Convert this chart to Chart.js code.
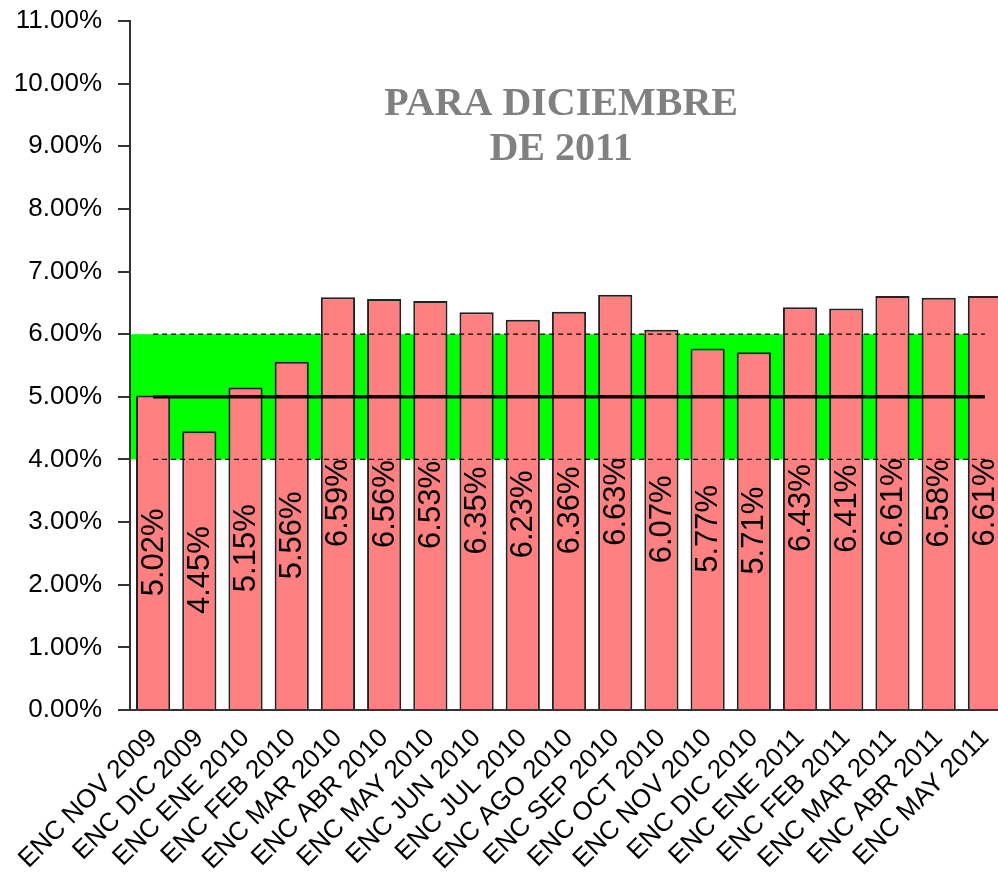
<!DOCTYPE html>
<html lang="es">
<head>
    <meta charset="UTF-8">
    <title>Expectativa de inflación para diciembre de 2011</title>
    <script src="https://cdn.jsdelivr.net/npm/chart.js"></script>
    <style>
        html, body { margin: 0; padding: 0; background: #fff; overflow: hidden; }
        #wrap { width: 998px; height: 874px; overflow: hidden; }
    </style>
</head>
<body>
    <div id="wrap">
        <canvas id="encChart" width="1010" height="874"></canvas>
    </div>
    <script>
        // survey months
        var categories = ['ENC NOV 2009', 'ENC DIC 2009', 'ENC ENE 2010', 'ENC FEB 2010',
            'ENC MAR 2010', 'ENC ABR 2010', 'ENC MAY 2010', 'ENC JUN 2010', 'ENC JUL 2010',
            'ENC AGO 2010', 'ENC SEP 2010', 'ENC OCT 2010', 'ENC NOV 2010', 'ENC DIC 2010',
            'ENC ENE 2011', 'ENC FEB 2011', 'ENC MAR 2011', 'ENC ABR 2011', 'ENC MAY 2011'];
        // expected inflation (%)
        var expectativa = [5.02, 4.45, 5.15, 5.56, 6.59, 6.56, 6.53, 6.35, 6.23,
            6.36, 6.63, 6.07, 5.77, 5.71, 6.43, 6.41, 6.61, 6.58, 6.61];
        // target range and centre
        var rangoInf = 4;
        var rangoSup = 6;
        var meta = 5;
        var yTicks = [0, 1, 2, 3, 4, 5, 6, 7, 8, 9, 10, 11];
        var titulo = ['PARA DICIEMBRE', 'DE 2011'];

        function flat(v) {
            return categories.map(function() { return v; });
        }

        // green band behind the bars
        var bandPlugin = {
            id: 'band',
            beforeDatasetsDraw: function(chart) {
                var c = chart.ctx, x = chart.scales.x, y = chart.scales.y;
                var left = chart.chartArea.left + 1;
                var right = x.getPixelForValue(categories.length - 1) + 3;
                c.save();
                c.fillStyle = '#00ff00';
                c.fillRect(left, y.getPixelForValue(rangoSup), right - left,
                    y.getPixelForValue(rangoInf) - y.getPixelForValue(rangoSup));
                c.restore();
            }
        };

        // vertical value labels + title text
        var labelPlugin = {
            id: 'labels',
            afterDatasetsDraw: function(chart) {
                var c = chart.ctx;
                var meta0 = chart.getDatasetMeta(0);
                c.save();
                c.fillStyle = '#000';
                c.font = '31px "Liberation Sans", Arial, sans-serif';
                c.textAlign = 'center';
                c.textBaseline = 'middle';
                meta0.data.forEach(function(bar, i) {
                    c.save();
                    c.translate(bar.x, (bar.y + bar.base) / 2);
                    c.rotate(-Math.PI / 2);
                    c.fillText(expectativa[i].toFixed(2) + '%', 0, 1);
                    c.restore();
                });
                var x = chart.scales.x, y = chart.scales.y;
                c.fillStyle = '#808080';
                c.textBaseline = 'alphabetic';
                c.font = 'bold 40px "Liberation Serif", "Times New Roman", serif';
                var cx = x.getPixelForValue(8.83);
                c.fillText(titulo[0], cx, y.getPixelForValue(9.5));
                c.fillText(titulo[1], cx, y.getPixelForValue(8.78));
                c.restore();
            }
        };

        var ctx = document.getElementById('encChart').getContext('2d');
        var encChart = new Chart(ctx, {
            data: {
                labels: categories,
                datasets: [{
                    type: 'bar',
                    label: 'Expectativa',
                    data: expectativa,
                    backgroundColor: '#ff8080',
                    borderColor: '#222222',
                    borderWidth: 2,
                    barPercentage: 0.74,
                    categoryPercentage: 1,
                    order: 3
                }, {
                    type: 'line',
                    label: 'Meta',
                    data: flat(meta),
                    borderColor: '#000',
                    borderWidth: 3.5,
                    pointRadius: 0,
                    fill: false,
                    order: 1
                }, {
                    type: 'line',
                    label: 'Sup',
                    data: flat(rangoSup),
                    borderColor: '#000',
                    borderWidth: 1.3,
                    borderDash: [5, 4],
                    pointRadius: 0,
                    fill: false,
                    order: 2
                }, {
                    type: 'line',
                    label: 'Inf',
                    data: flat(rangoInf),
                    borderColor: '#000',
                    borderWidth: 1.3,
                    borderDash: [5, 4],
                    pointRadius: 0,
                    fill: false,
                    order: 2
                }]
            },
            options: {
                responsive: false,
                animation: false,
                layout: { padding: { top: 21, right: 2, left: 0, bottom: 0 } },
                plugins: {
                    legend: { display: false },
                    tooltip: { enabled: false }
                },
                scales: {
                    x: {
                        offset: true,
                        grid: { display: false, drawTicks: false },
                        border: { color: '#333', width: 2 },
                        ticks: {
                            color: '#000',
                            font: { family: '"Liberation Sans", Arial, sans-serif', size: 26 },
                            minRotation: 45,
                            maxRotation: 45,
                            autoSkip: false,
                            padding: 13
                        },
                        afterFit: function(s) {
                            s.height = 164;
                            s.paddingLeft = 0;
                            s.paddingRight = 0;
                        }
                    },
                    y: {
                        min: 0,
                        max: 11,
                        afterBuildTicks: function(s) {
                            s.ticks = yTicks.map(function(v) { return { value: v }; });
                        },
                        grid: { drawOnChartArea: false, tickLength: 12, color: '#333', lineWidth: 2 },
                        border: { color: '#333', width: 2 },
                        ticks: {
                            color: '#000',
                            padding: 16,
                            font: { family: '"Liberation Sans", Arial, sans-serif', size: 26 },
                            callback: function(v) { return v.toFixed(2) + '%'; }
                        },
                        afterFit: function(s) {
                            s.width = 130;
                            s.paddingTop = 0;
                            s.paddingBottom = 0;
                        }
                    }
                }
            },
            plugins: [bandPlugin, labelPlugin]
        });
    </script>
</body>
</html>
